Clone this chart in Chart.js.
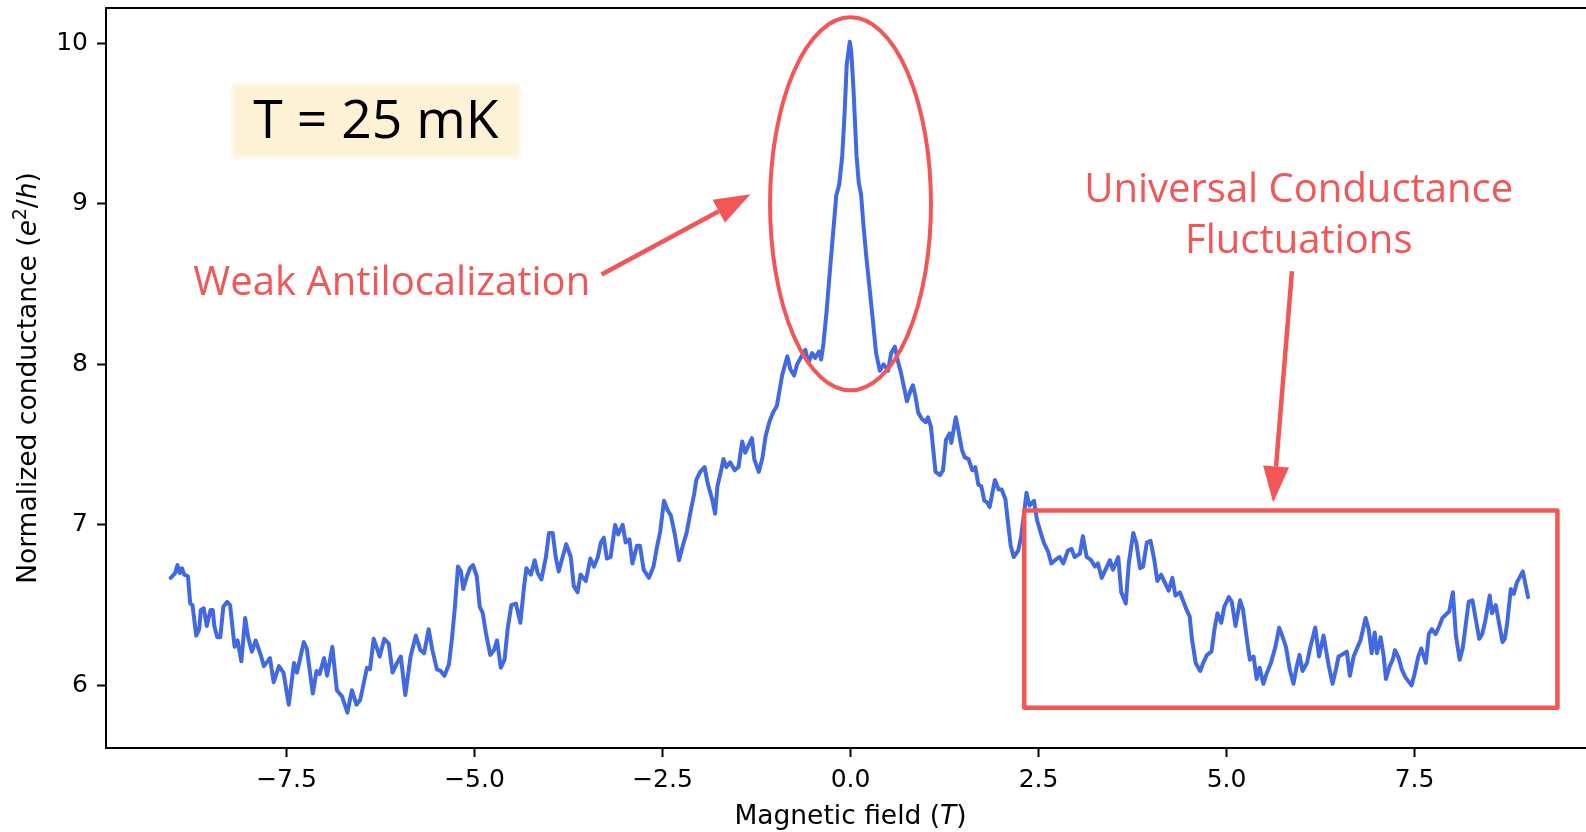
<!DOCTYPE html>
<html>
<head>
<meta charset="utf-8">
<script src="https://cdn.jsdelivr.net/npm/chart.js@4.4.1/dist/chart.umd.min.js"></script>
<style>
  html, body { margin: 0; padding: 0; background: #fff; }
  canvas { display: block; }
</style>
</head>
<body>
<canvas id="wal-chart" width="1586" height="832"></canvas>
<script>
// --- Dados ---
const fieldT = [
  -9.04, -8.98, -8.95, -8.92, -8.89, -8.86, -8.81, -8.78, -8.75, -8.70,
  -8.66, -8.64, -8.60, -8.56, -8.51, -8.48, -8.46, -8.42, -8.38, -8.34,
  -8.29, -8.25, -8.19, -8.15, -8.10, -8.05, -8.01, -7.96, -7.91, -7.85,
  -7.80, -7.72, -7.67, -7.60, -7.54, -7.47, -7.40, -7.36, -7.27, -7.23,
  -7.15, -7.10, -7.06, -7.00, -6.96, -6.89, -6.83, -6.76, -6.69, -6.63,
  -6.57, -6.52, -6.47, -6.43, -6.39, -6.34, -6.26, -6.20, -6.14, -6.09,
  -6.03, -5.98, -5.92, -5.85, -5.78, -5.72, -5.67, -5.61, -5.56, -5.50,
  -5.45, -5.40, -5.34, -5.30, -5.26, -5.22, -5.18, -5.15, -5.10, -5.06,
  -5.02, -4.97, -4.93, -4.89, -4.85, -4.79, -4.74, -4.70, -4.65, -4.60,
  -4.56, -4.51, -4.45, -4.39, -4.34, -4.31, -4.25, -4.20, -4.16, -4.11,
  -4.05, -4.01, -3.96, -3.92, -3.88, -3.84, -3.78, -3.72, -3.68, -3.63,
  -3.59, -3.52, -3.46, -3.41, -3.36, -3.32, -3.28, -3.24, -3.19, -3.13,
  -3.09, -3.03, -2.99, -2.94, -2.90, -2.84, -2.80, -2.75, -2.68, -2.62,
  -2.57, -2.53, -2.48, -2.43, -2.39, -2.34, -2.28, -2.23, -2.18, -2.12,
  -2.08, -2.05, -2.00, -1.94, -1.90, -1.84, -1.80, -1.77, -1.72, -1.69,
  -1.65, -1.60, -1.54, -1.49, -1.44, -1.40, -1.36, -1.31, -1.28, -1.22,
  -1.17, -1.13, -1.08, -1.03, -0.98, -0.91, -0.84, -0.80, -0.75, -0.71,
  -0.64, -0.60, -0.56, -0.51, -0.47, -0.42, -0.39, -0.36, -0.32, -0.28,
  -0.24, -0.19, -0.15, -0.11, -0.08, -0.05, -0.01, 0.01, 0.04, 0.08,
  0.11, 0.14, 0.17, 0.21, 0.25, 0.30, 0.34, 0.39, 0.44, 0.50,
  0.54, 0.59, 0.63, 0.67, 0.71, 0.75, 0.80, 0.83, 0.86, 0.90,
  0.95, 1.00, 1.03, 1.07, 1.10, 1.13, 1.19, 1.23, 1.27, 1.32,
  1.34, 1.40, 1.43, 1.48, 1.52, 1.57, 1.62, 1.66, 1.70, 1.74,
  1.78, 1.82, 1.85, 1.92, 1.97, 2.01, 2.06, 2.09, 2.13, 2.17,
  2.23, 2.27, 2.32, 2.34, 2.38, 2.44, 2.48, 2.53, 2.57, 2.63,
  2.67, 2.72, 2.78, 2.83, 2.89, 2.94, 2.98, 3.05, 3.09, 3.14,
  3.20, 3.25, 3.29, 3.34, 3.45, 3.49, 3.56, 3.60, 3.66, 3.70,
  3.76, 3.80, 3.85, 3.89, 3.94, 3.99, 4.04, 4.08, 4.13, 4.18,
  4.23, 4.28, 4.32, 4.38, 4.42, 4.47, 4.51, 4.54, 4.59, 4.65,
  4.69, 4.74, 4.80, 4.84, 4.88, 4.93, 4.97, 5.03, 5.07, 5.12,
  5.18, 5.22, 5.27, 5.31, 5.36, 5.40, 5.44, 5.49, 5.53, 5.59,
  5.65, 5.70, 5.74, 5.79, 5.84, 5.89, 5.93, 5.97, 6.01, 6.07,
  6.11, 6.18, 6.23, 6.29, 6.36, 6.41, 6.46, 6.49, 6.53, 6.60,
  6.64, 6.69, 6.78, 6.85, 6.89, 6.93, 6.97, 7.00, 7.05, 7.09,
  7.12, 7.17, 7.21, 7.24, 7.29, 7.33, 7.38, 7.46, 7.50, 7.55,
  7.59, 7.65, 7.69, 7.73, 7.78, 7.83, 7.87, 7.96, 8.01, 8.05,
  8.10, 8.14, 8.22, 8.27, 8.36, 8.40, 8.44, 8.50, 8.53, 8.58,
  8.67, 8.70, 8.73, 8.78, 8.82, 8.86, 8.94, 8.97, 9.01
];
const conductance = [
  6.67, 6.70, 6.75, 6.70, 6.73, 6.69, 6.68, 6.51, 6.50, 6.31,
  6.35, 6.47, 6.48, 6.37, 6.47, 6.47, 6.37, 6.30, 6.30, 6.49,
  6.52, 6.50, 6.24, 6.28, 6.15, 6.42, 6.30, 6.21, 6.28, 6.20,
  6.12, 6.17, 6.02, 6.12, 6.08, 5.88, 6.14, 6.08, 6.27, 6.23,
  5.95, 6.09, 6.07, 6.17, 6.06, 6.24, 5.97, 5.93, 5.83, 5.97,
  5.88, 5.91, 6.02, 6.11, 6.10, 6.29, 6.18, 6.29, 6.26, 6.08,
  6.14, 6.18, 5.94, 6.18, 6.31, 6.22, 6.20, 6.35, 6.22, 6.10,
  6.09, 6.06, 6.13, 6.29, 6.49, 6.74, 6.71, 6.60, 6.68, 6.73,
  6.75, 6.68, 6.49, 6.45, 6.33, 6.19, 6.22, 6.28, 6.11, 6.16,
  6.35, 6.50, 6.51, 6.39, 6.62, 6.73, 6.69, 6.78, 6.70, 6.66,
  6.80, 6.95, 6.95, 6.80, 6.71, 6.78, 6.88, 6.80, 6.62, 6.58,
  6.69, 6.65, 6.79, 6.74, 6.80, 6.89, 6.92, 6.79, 6.80, 7.00,
  6.94, 7.00, 6.89, 6.91, 6.76, 6.87, 6.87, 6.72, 6.67, 6.74,
  6.87, 6.96, 7.15, 7.09, 7.06, 6.95, 6.78, 6.87, 6.95, 7.10,
  7.19, 7.28, 7.33, 7.36, 7.26, 7.16, 7.07, 7.24, 7.34, 7.41,
  7.36, 7.39, 7.34, 7.36, 7.52, 7.45, 7.49, 7.54, 7.41, 7.33,
  7.42, 7.55, 7.64, 7.70, 7.74, 7.93, 8.05, 7.97, 7.93, 8.00,
  8.06, 8.09, 8.01, 8.07, 8.04, 8.08, 8.03, 8.13, 8.32, 8.55,
  8.77, 9.05, 9.12, 9.30, 9.55, 9.87, 10.01, 9.95, 9.71, 9.30,
  9.13, 9.06, 8.88, 8.67, 8.49, 8.26, 8.07, 7.96, 8.00, 7.96,
  8.07, 8.11, 8.02, 7.95, 7.86, 7.77, 7.84, 7.87, 7.81, 7.70,
  7.66, 7.64, 7.67, 7.61, 7.47, 7.33, 7.31, 7.34, 7.53, 7.57,
  7.51, 7.67, 7.60, 7.47, 7.42, 7.41, 7.34, 7.36, 7.25, 7.24,
  7.15, 7.14, 7.11, 7.28, 7.22, 7.22, 7.16, 7.03, 6.87, 6.80,
  6.84, 6.93, 7.12, 7.20, 7.12, 7.15, 7.03, 6.95, 6.89, 6.83,
  6.76, 6.78, 6.80, 6.76, 6.84, 6.85, 6.80, 6.82, 6.93, 6.80,
  6.78, 6.74, 6.76, 6.67, 6.78, 6.72, 6.80, 6.58, 6.51, 6.76,
  6.95, 6.89, 6.73, 6.74, 6.89, 6.90, 6.78, 6.65, 6.69, 6.64,
  6.59, 6.67, 6.56, 6.58, 6.53, 6.47, 6.43, 6.29, 6.14, 6.09,
  6.14, 6.19, 6.21, 6.35, 6.45, 6.39, 6.49, 6.55, 6.52, 6.37,
  6.53, 6.47, 6.29, 6.16, 6.18, 6.04, 6.11, 6.01, 6.07, 6.14,
  6.24, 6.36, 6.31, 6.24, 6.10, 6.01, 6.11, 6.19, 6.09, 6.14,
  6.23, 6.36, 6.18, 6.31, 6.12, 6.01, 6.11, 6.18, 6.19, 6.21,
  6.06, 6.18, 6.28, 6.42, 6.35, 6.20, 6.33, 6.20, 6.30, 6.18,
  6.04, 6.12, 6.16, 6.22, 6.17, 6.10, 6.05, 6.00, 6.07, 6.18,
  6.23, 6.14, 6.32, 6.35, 6.32, 6.37, 6.42, 6.46, 6.58, 6.31,
  6.16, 6.23, 6.52, 6.53, 6.29, 6.32, 6.40, 6.56, 6.45, 6.50,
  6.27, 6.29, 6.38, 6.60, 6.57, 6.64, 6.71, 6.64, 6.55
];
const xTicks = [-7.5, -5.0, -2.5, 0.0, 2.5, 5.0, 7.5];
const yTicks = [6, 7, 8, 9, 10];

// --- Estilo ---
const LINE_BLUE = '#4169E1';
const NOTE_RED = '#F25656';
const AXIS_FONT = '"DejaVu Sans"';
const NOTE_FONT = '"Open Sans"';

// desenha texto com partes em itálico / expoente, centrado em (0,0)
function drawRichText(ctx, parts, size) {
  const segs = parts.map(p => {
    const s = p.sup ? size * 0.7 : size;
    const font = (p.italic ? 'italic ' : '') + s + 'px ' + AXIS_FONT;
    ctx.font = font;
    return { text: p.text, sup: p.sup, font, w: ctx.measureText(p.text).width };
  });
  const total = segs.reduce((a, s) => a + s.w, 0);
  let x = -total / 2;
  ctx.textAlign = 'left';
  ctx.textBaseline = 'alphabetic';
  segs.forEach(s => {
    ctx.font = s.font;
    ctx.fillText(s.text, x, s.sup ? -size * 0.38 : 0);
    x += s.w;
  });
}

function drawArrow(ctx, x1, y1, x2, y2) {
  const ang = Math.atan2(y2 - y1, x2 - x1);
  const headLen = 36, headHalf = 13;
  const bx = x2 - headLen * Math.cos(ang), by = y2 - headLen * Math.sin(ang);
  ctx.beginPath();
  ctx.moveTo(x1, y1);
  ctx.lineTo(bx, by);
  ctx.stroke();
  ctx.beginPath();
  ctx.moveTo(x2, y2);
  ctx.lineTo(bx + headHalf * Math.sin(ang), by - headHalf * Math.cos(ang));
  ctx.lineTo(bx - headHalf * Math.sin(ang), by + headHalf * Math.cos(ang));
  ctx.closePath();
  ctx.fill();
}

// --- Anotações (em coordenadas de dados) ---
const notesPlugin = {
  id: 'notes',
  afterDatasetsDraw(chart) {
    const ctx = chart.ctx;
    const xs = chart.scales.x, ys = chart.scales.y;
    const px = v => xs.getPixelForValue(v);
    const py = v => ys.getPixelForValue(v);
    ctx.save();

    // caixa "T = 25 mK"
    ctx.font = '53.5px ' + NOTE_FONT;
    const label = 'T = 25 mK';
    const tw = ctx.measureText(label).width;
    const cx = px(-6.31), cy = py(9.52);
    ctx.save();
    ctx.filter = 'blur(2px)';
    ctx.fillStyle = 'rgba(252, 234, 185, 0.6)';
    ctx.fillRect(cx - tw / 2 - 21, cy - 36, tw + 42, 73);
    ctx.restore();
    ctx.fillStyle = '#000';
    ctx.textAlign = 'center';
    ctx.textBaseline = 'middle';
    ctx.fillText(label, cx, cy + 2);

    ctx.strokeStyle = NOTE_RED;
    ctx.fillStyle = NOTE_RED;
    ctx.lineCap = 'round';
    ctx.lineJoin = 'round';

    // elipse no pico
    ctx.lineWidth = 4;
    ctx.beginPath();
    ctx.ellipse(px(0), py(9.0), px(1.07) - px(0), py(9.0) - py(10.162), 0, 0, Math.PI * 2);
    ctx.stroke();

    // retângulo UCF
    ctx.lineWidth = 4.5;
    ctx.strokeRect(px(2.31), py(7.09), px(9.40) - px(2.31), py(5.86) - py(7.09));

    // setas
    ctx.lineWidth = 4.5;
    ctx.lineCap = 'butt';
    drawArrow(ctx, px(-3.31), py(8.56), px(-1.33), py(9.06));
    drawArrow(ctx, px(5.87), py(8.58), px(5.62), py(7.14));

    // textos
    ctx.font = '40px ' + NOTE_FONT;
    ctx.textAlign = 'center';
    ctx.textBaseline = 'middle';
    ctx.fillText('Weak Antilocalization', px(-6.10), py(8.505));
    ctx.fillText('Universal Conductance', px(5.96), py(9.08));
    ctx.fillText('Fluctuations', px(5.96), py(8.765));
    ctx.restore();
  },
  afterDraw(chart) {
    const ctx = chart.ctx;
    const a = chart.chartArea;
    ctx.save();
    // moldura superior
    ctx.strokeStyle = '#000';
    ctx.lineWidth = 2;
    ctx.beginPath();
    ctx.moveTo(a.left - 1, a.top);
    ctx.lineTo(a.right, a.top);
    ctx.stroke();

    ctx.fillStyle = '#000';
    // título do eixo x
    ctx.save();
    ctx.translate(chart.scales.x.getPixelForValue(0), 824);
    drawRichText(ctx, [{ text: 'Magnetic field (' }, { text: 'T', italic: true }, { text: ')' }], 26.5);
    ctx.restore();
    // título do eixo y
    ctx.save();
    ctx.translate(36, (a.top + a.bottom) / 2);
    ctx.rotate(-Math.PI / 2);
    drawRichText(ctx, [
      { text: 'Normalized conductance (' },
      { text: 'e', italic: true },
      { text: '2', sup: true },
      { text: '/' },
      { text: 'h', italic: true },
      { text: ')' }
    ], 26.5);
    ctx.restore();
    ctx.restore();
  }
};

const points = fieldT.map((b, i) => ({ x: b, y: conductance[i] }));

const axisCommon = {
  grid: { drawOnChartArea: false, drawTicks: true, tickLength: 9, tickWidth: 2, tickColor: '#000' },
  border: { display: true, color: '#000', width: 2 }
};

new Chart(document.getElementById('wal-chart'), {
  type: 'line',
  data: {
    datasets: [{
      data: points,
      borderColor: LINE_BLUE,
      borderWidth: 4,
      pointRadius: 0,
      tension: 0,
      fill: false,
      borderJoinStyle: 'round',
      borderCapStyle: 'round'
    }]
  },
  options: {
    animation: false,
    responsive: false,
    devicePixelRatio: 1,
    layout: { padding: { top: 8, left: 0, right: 0, bottom: 0 } },
    plugins: { legend: { display: false }, tooltip: { enabled: false } },
    scales: {
      x: {
        type: 'linear',
        min: -9.9,
        max: 9.78,
        ...axisCommon,
        afterBuildTicks: s => { s.ticks = xTicks.map(v => ({ value: v })); },
        afterFit: s => { s.height = 84; s.paddingLeft = 0; s.paddingRight = 0; },
        ticks: {
          autoSkip: false,
          maxRotation: 0,
          padding: 8,
          color: '#000',
          font: { family: AXIS_FONT, size: 25 },
          callback: v => (v < 0 ? '\u2212' : '') + Math.abs(v).toFixed(1)
        }
      },
      y: {
        type: 'linear',
        min: 5.61,
        max: 10.22,
        ...axisCommon,
        afterBuildTicks: s => { s.ticks = yTicks.map(v => ({ value: v })); },
        afterFit: s => { s.width = 106; s.paddingTop = 0; s.paddingBottom = 0; },
        ticks: {
          autoSkip: false,
          padding: 9,
          color: '#000',
          font: { family: AXIS_FONT, size: 25 },
          callback: v => String(v)
        }
      }
    }
  },
  plugins: [notesPlugin]
});
</script>
</body>
</html>
